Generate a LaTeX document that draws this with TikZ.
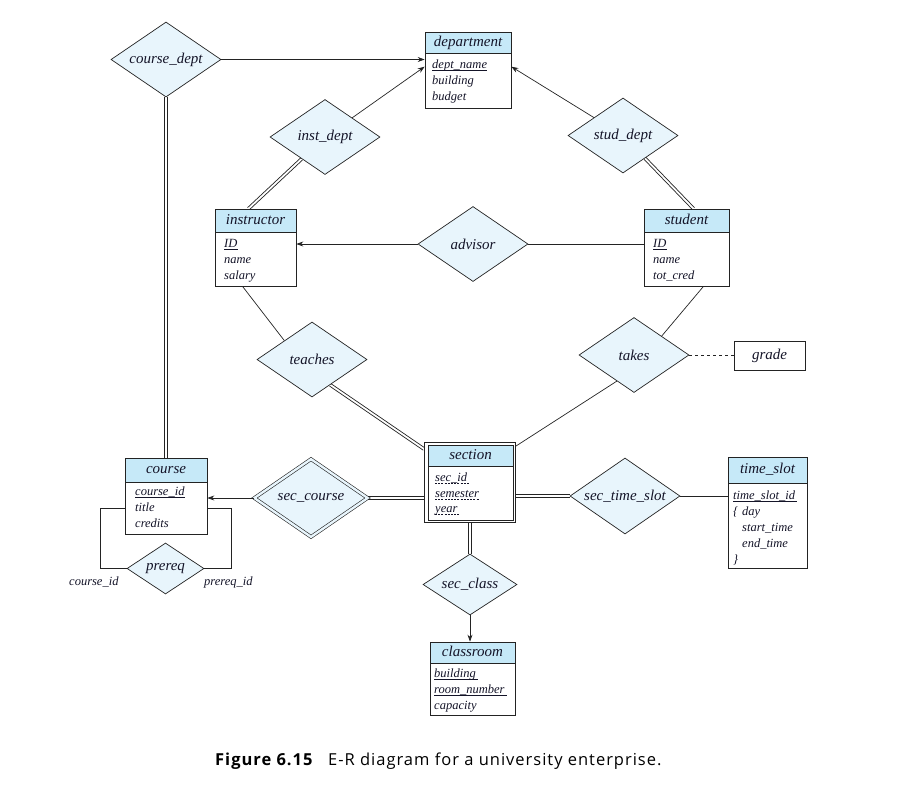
\documentclass[tikz,border=0pt]{standalone}
\usepackage{fontspec}
\setmainfont{Liberation Serif}
\newfontfamily\capfont{Open Sans}[LetterSpace=6]
\usetikzlibrary{shapes.geometric,arrows.meta,calc}

\definecolor{hdrblue}{RGB}{198,233,248}
\definecolor{relblue}{RGB}{232,245,252}
\definecolor{lncol}{RGB}{35,35,35}
\definecolor{txtcol}{RGB}{20,20,40}

\newcommand\hdrfont{\fontsize{15}{18}\selectfont\itshape}
\newcommand\attfont{\fontsize{12.5}{15}\selectfont\itshape}
% double connectors drawn as two parallel strokes
\newcommand\dblh[2]{%
  \draw[ln] ([yshift=1.4pt]#1) -- ([yshift=1.4pt]#2);
  \draw[ln] ([yshift=-1.4pt]#1) -- ([yshift=-1.4pt]#2);}
\newcommand\dblv[2]{%
  \draw[ln] ([xshift=1.4pt]#1) -- ([xshift=1.4pt]#2);
  \draw[ln] ([xshift=-1.4pt]#1) -- ([xshift=-1.4pt]#2);}
\newcommand\dbld[2]{%
  \draw[ln] ($(#1)!1.4pt!90:(#2)$) -- ($(#2)!1.4pt!-90:(#1)$);
  \draw[ln] ($(#1)!1.4pt!-90:(#2)$) -- ($(#2)!1.4pt!90:(#1)$);}

\begin{document}
\begin{tikzpicture}[x=1pt,y=-1pt,
  every node/.style={text=txtcol},
  hdr/.style={draw=lncol, fill=hdrblue, line width=0.7pt, inner sep=0pt,
    font=\hdrfont, text height=10pt, text depth=3pt},
  bodybox/.style={draw=lncol, fill=white, line width=0.7pt, inner sep=0pt},
  rel/.style={diamond, aspect=1.5, draw=lncol, fill=relblue, line width=0.7pt,
    inner sep=0pt, minimum width=110pt, minimum height=75pt, font=\hdrfont},
  att/.style={inner sep=0pt, anchor=base west, font=\attfont},
  ln/.style={draw=lncol, line width=0.7pt},
  arr/.style={draw=lncol, line width=0.7pt, -{Stealth[length=7pt,width=5pt]}},
  ul/.style={draw=txtcol, line width=0.6pt},
  dul/.style={draw=txtcol, line width=0.6pt, dash pattern=on 2pt off 1.2pt},
]
\useasboundingbox (0,0) rectangle (897,788);

% ---------- entity sets ----------
% department
\node[hdr, minimum width=86pt, minimum height=21pt] (dept) at (468,42.5) {department};
\node[bodybox, minimum width=86pt, minimum height=55pt] (deptb) at (468,80.5) {};
\node[att] (deptA) at (432,68) {dept\_name};
\node[att] (deptB) at (432,84) {building};
\node[att] (deptC) at (432,100) {budget};
\draw[ul] ([yshift=-2pt]deptA.base west) -- ([yshift=-2pt]deptA.base east);

% instructor
\node[hdr, minimum width=81pt, minimum height=23pt] (instr) at (255.5,220.5) {instructor};
\node[bodybox, minimum width=81pt, minimum height=54pt] (instrb) at (255.5,259) {};
\node[att] (instrA) at (224,247) {ID};
\node[att] (instrB) at (224,263) {name};
\node[att] (instrC) at (224,279) {salary};
\draw[ul] ([yshift=-2pt]instrA.base west) -- ([yshift=-2pt]instrA.base east);

% student
\node[hdr, minimum width=85pt, minimum height=23pt] (stud) at (686.5,220.5) {student};
\node[bodybox, minimum width=85pt, minimum height=54pt] (studb) at (686.5,259) {};
\node[att] (studA) at (653,247) {ID};
\node[att] (studB) at (653,263) {name};
\node[att] (studC) at (653,279) {tot\_cred};
\draw[ul] ([yshift=-2pt]studA.base west) -- ([yshift=-2pt]studA.base east);

% course
\node[hdr, minimum width=82pt, minimum height=24pt] (course) at (166,470) {course};
\node[bodybox, minimum width=82pt, minimum height=52pt] (courseb) at (166,508) {};
\node[att] (courseA) at (135,495) {course\_id};
\node[att] (courseB) at (135,511) {title};
\node[att] (courseC) at (135,527) {credits};
\draw[ul] ([yshift=-2pt]courseA.base west) -- ([yshift=-2pt]courseA.base east);

% time_slot
\node[hdr, minimum width=79pt, minimum height=26pt] (tslot) at (767.5,470) {time\_slot};
\node[bodybox, minimum width=79pt, minimum height=85pt] (tslotb) at (767.5,525.5) {};
\node[att] (tslotA) at (733,499) {time\_slot\_id};
\node[att] (tslotB) at (733,515) {\{\hspace{4pt}day};
\node[att] (tslotC) at (742,531) {start\_time};
\node[att] (tslotD) at (742,547) {end\_time};
\node[att] (tslotE) at (733,563) {\}};
\draw[ul] ([yshift=-2pt]tslotA.base west) -- ([yshift=-2pt,xshift=2pt]tslotA.base east);

% classroom
\node[hdr, minimum width=85pt, minimum height=21pt] (room) at (472.5,652.5) {classroom};
\node[bodybox, minimum width=85pt, minimum height=52pt] (roomb) at (472.5,689) {};
\node[att] (roomA) at (434,677) {building};
\node[att] (roomB) at (434,693) {room\_number};
\node[att] (roomC) at (434,709) {capacity};
\draw[ul] ([yshift=-2pt]roomA.base west) -- ([yshift=-2pt,xshift=2pt]roomA.base east);
\draw[ul] ([yshift=-2pt]roomB.base west) -- ([yshift=-2pt,xshift=2pt]roomB.base east);

% section (weak entity set, double border)
\node[draw=lncol, line width=0.9pt, minimum width=91pt, minimum height=80pt, inner sep=0pt] (sec) at (470,482.5) {};
\node[hdr, minimum width=85pt, minimum height=21pt] (sech) at (470.5,455.5) {section};
\node[bodybox, minimum width=85pt, minimum height=54pt] (secb) at (470.5,493) {};
\node[att] (secA) at (435,481) {sec\_id};
\node[att] (secB) at (435,497) {semester};
\node[att] (secC) at (435,512) {year};
\draw[dul] ([yshift=-2pt]secA.base west) -- ([yshift=-2pt,xshift=2pt]secA.base east);
\draw[dul] ([yshift=-2pt]secB.base west) -- ([yshift=-2pt]secB.base east);
\draw[dul] ([yshift=-2pt]secC.base west) -- ([yshift=-2pt,xshift=2pt]secC.base east);

% grade attribute of takes
\node[draw=lncol, line width=0.7pt, fill=white, minimum width=71pt, minimum height=29pt,
  inner sep=0pt, font=\hdrfont] (grade) at (769.5,355.5) {grade};

% ---------- relationship sets ----------
\node[rel] (cd) at (166,59.5) {course\_dept};
\node[rel] (idp) at (325,137) {inst\_dept};
\node[rel] (sdp) at (623,135.5) {stud\_dept};
\node[rel] (adv) at (473,244) {advisor};
\node[rel] (tch) at (312,359.5) {teaches};
\node[rel] (tks) at (634,355) {takes};
\node[rel, double=relblue, double distance=2.4pt, line width=0.6pt,
  minimum width=113.5pt, minimum height=78pt] (scr) at (311,498) {sec\_course};
\node[rel, minimum height=76pt] (sts) at (625,496) {sec\_time\_slot};
\node[rel, minimum width=94pt, minimum height=61pt] (scl) at (470,584.5) {sec\_class};
\node[rel, minimum width=77pt, minimum height=51pt] (prq) at (165.5,568.5) {prereq};

% ---------- connectors ----------
\coordinate (cdEnd) at (cd.south |- course.north);
\coordinate (scrEnd) at (scr.east -| sec.west);
\coordinate (stsStart) at (sec.east |- sts.west);
\path (idp) -- ([xshift=-7pt]instr.north)
  coordinate[pos=0] (idpA) coordinate[pos=1] (idpB);
\path (sdp) -- ([xshift=7pt]stud.north)
  coordinate[pos=0] (sdpA) coordinate[pos=1] (sdpB);
\coordinate (tchA) at ($(tch.south)!0.33!(tch.east)$);
\coordinate (tchB) at ([yshift=-7pt]sec.north west);

\draw[arr] (cd.east) -- (cd.east -| deptb.west);
\dblv{cd.south}{cdEnd}
\draw[arr] (idp) -- ([yshift=-14pt]deptb.north west);
\draw[arr] (sdp) -- ([yshift=-14pt]deptb.north east);
\dbld{idpA}{idpB}
\dbld{sdpA}{sdpB}
\draw[arr] (adv.west) -- (adv.west -| instrb.east);
\draw[ln] (adv.east) -- (adv.east -| studb.west);
\draw[ln] ([xshift=-13pt]instrb.south) -- (tch.north west);
\draw[ln] ([xshift=17pt]studb.south) -- (tks.north east);
\dbld{tchA}{tchB}
\draw[ln] ($(tks.south)!0.31!(tks.west)$) -- ([yshift=-4pt]sec.north east);
\draw[dashed, draw=lncol, line width=0.7pt] (tks.east) -- (tks.east -| grade.west);
\draw[arr] (scr.west) -- (scr.west -| courseb.east);
\dblh{scr.east}{scrEnd}
\dblh{stsStart}{sts.west}
\draw[ln] (sts.east) -- (sts.east -| tslotb.west);
\dblv{sec.south}{scl.north}
\draw[arr] (scl.south) -- (scl.south |- room.north);
\draw[ln] (prq.west) -| ([xshift=-24pt]courseb.west) -- (courseb.west);
\draw[ln] (prq.east) -| ([xshift=24pt]courseb.east) -- (courseb.east);

% role labels of prereq
\node[att] (roleA) at (69,585) {course\_id};
\node[att] (roleB) at (204,585) {prereq\_id};

% ---------- caption ----------
\node[anchor=base west, inner sep=0pt, text=black, font=\capfont\fontsize{16.5}{19}\selectfont\bfseries] (capno) at (215,765) {Figure 6.15};
\node[anchor=base west, inner sep=0pt, text=black, font=\capfont\fontsize{16.5}{19}\selectfont] (captxt) at (328,765) {E-R diagram for a university enterprise.};
\end{tikzpicture}
\end{document}
